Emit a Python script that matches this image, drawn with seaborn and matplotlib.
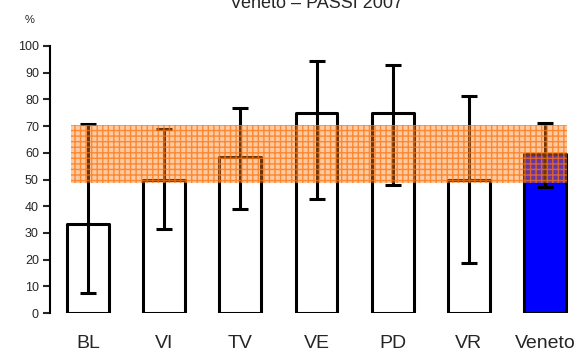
import matplotlib
matplotlib.use("Agg")
import matplotlib.pyplot as plt
import seaborn as sns
import pandas as pd
import numpy as np

# ASL areas and regional total
areas = ["BL", "VI", "TV", "VE", "PD", "VR", "Veneto"]
values = [33.3, 50.0, 58.3, 75.0, 75.0, 50.0, 59.5]
ci_low = [7.4, 31.3, 38.9, 42.7, 47.8, 18.8, 47.3]
ci_high = [70.6, 68.8, 76.9, 94.5, 92.8, 81.4, 71.3]
# regional confidence band
band_low, band_high = 48.6, 70.4
bar_colors = ["white"] * 6 + ["#0000FF"]
yticks = list(range(0, 101, 10))

sns.set_theme(style="white")
plt.rcParams["font.family"] = ["Liberation Sans", "DejaVu Sans"]

fig = plt.figure(figsize=(5.8, 3.56), dpi=100)
ax = fig.add_axes([50 / 580, 1 - 313 / 356, 1 - 50 / 580, 267 / 356])

df = pd.DataFrame({"area": areas, "value": values})
sns.barplot(data=df, x="area", y="value", hue="area", palette=bar_colors,
            saturation=1, legend=False, width=0.55, edgecolor="black",
            linewidth=2.2, ax=ax, zorder=2)
for patch in ax.patches:
    patch.set_joinstyle("round")

vals = np.array(values)
err = [vals - np.array(ci_low), np.array(ci_high) - vals]
ax.errorbar(np.arange(len(areas)), vals, yerr=err, fmt="none", ecolor="black",
            elinewidth=2.2, capsize=6, capthick=2.2, zorder=3)

# hatched band for the regional interval, drawn over the bars
ax.fill_between([-0.22, 6.29], band_low, band_high,
                facecolor=(1.0, 0.5, 0.12, 0.42),
                edgecolor=(0.98, 0.45, 0.05, 0.75),
                hatch="+++", linewidth=0, zorder=4)

ax.set_xlim(-0.5, 6.46)
ax.set_ylim(0, 100)
ax.set_yticks(yticks)
ax.set_yticklabels([str(t) for t in yticks], fontsize=9)
ax.set_xlabel("")
ax.set_ylabel("")
ax.tick_params(axis="x", length=0, pad=16, labelsize=14)
ax.tick_params(axis="y", left=True, length=5, width=1.5, pad=3, direction="out")

for side in ["top", "right", "bottom"]:
    ax.spines[side].set_visible(False)
ax.spines["left"].set_linewidth(1.5)
ax.spines["left"].set_color("black")

fig.text(30 / 580, 1 - 20 / 356, "%", fontsize=8, ha="center", va="center")
fig.text(0.545, 1 - 8 / 356, "Veneto \u2013 PASSI 2007", fontsize=13,
         ha="center", va="baseline")

fig.savefig("out.png", dpi=100)
